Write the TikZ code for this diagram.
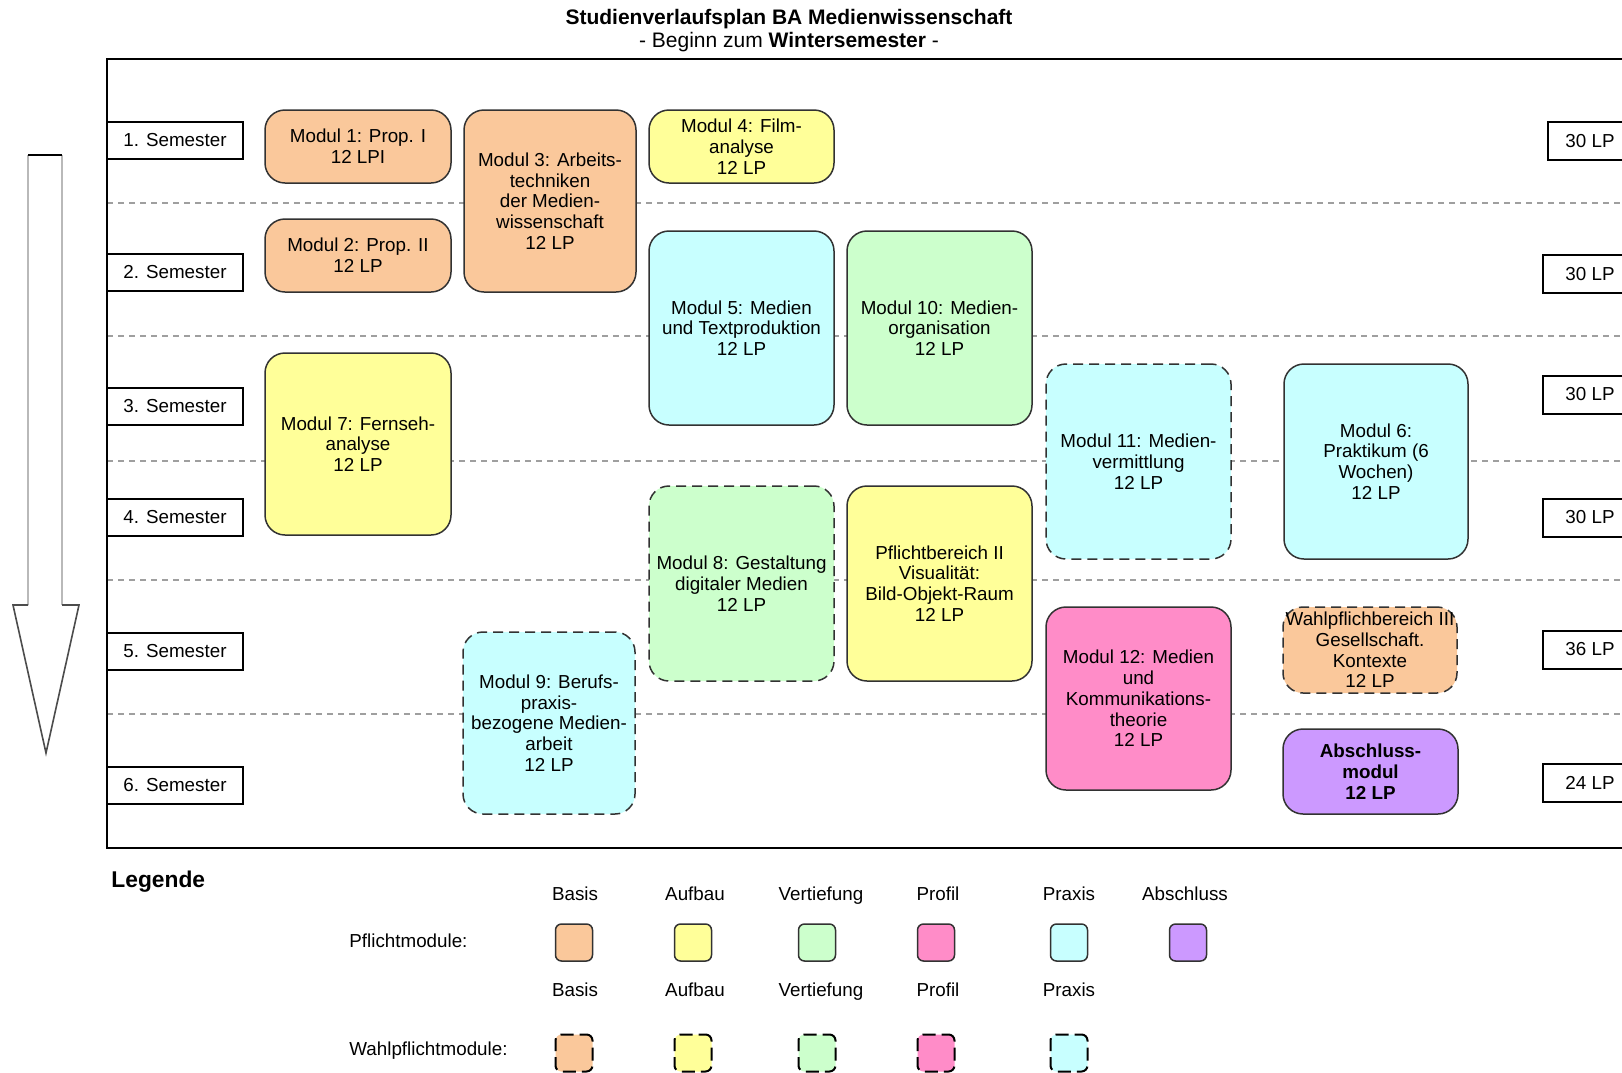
\documentclass[tikz,border=0pt]{standalone}
\usepackage{fontspec}
\setmainfont{Liberation Sans}
\definecolor{cOrange}{RGB}{250,200,155}
\definecolor{cYellow}{RGB}{255,255,153}
\definecolor{cCyan}{RGB}{200,255,255}
\definecolor{cGreen}{RGB}{204,255,204}
\definecolor{cPink}{RGB}{255,140,200}
\definecolor{cPurple}{RGB}{204,153,255}
\definecolor{cBorder}{RGB}{50,50,50}
\newcommand{\modfnt}{\fontsize{9.4pt}{10.35pt}\selectfont}
\tikzset{
  modbox/.style={draw=cBorder, line width=0.75pt, rounded corners=10pt, align=center, font=\modfnt, inner sep=0pt},
  wahlbox/.style={modbox, dash pattern=on 5pt off 3pt},
  sembox/.style={draw=black, line width=1pt, font=\modfnt, minimum width=68pt, minimum height=18.5pt, inner sep=0pt},
  lpbox/.style={draw=black, line width=1pt, font=\modfnt, minimum height=19pt, inner sep=0pt},
  sepline/.style={gray!75, line width=0.6pt, dash pattern=on 3pt off 2.5pt},
  swatch/.style={draw=cBorder, line width=0.75pt, rounded corners=3pt, minimum width=18.5pt, minimum height=18.5pt, inner sep=0pt},
  wswatch/.style={swatch, draw=black, line width=1pt, dash pattern=on 6.5pt off 3pt, dash phase=3pt},
  legtext/.style={font=\modfnt, inner sep=0pt},
  leghead/.style={font=\modfnt, inner sep=0pt, anchor=base}
}
\begin{document}
\begin{tikzpicture}[x=0.5pt, y=-0.5pt]
\useasboundingbox (0,0) rectangle (1622,1072);
\clip (0,0) rectangle (1622,1072);
\fill[white] (0,0) rectangle (1622,1072);

% title
\node[font=\bfseries\fontsize{10.5pt}{12pt}\selectfont, inner sep=0pt] (title) at (789,19) {Studienverlaufsplan BA Medienwissenschaft};
\node[font=\fontsize{10.5pt}{12pt}\selectfont, inner sep=0pt] (subtitle) at (789,42) {- Beginn zum \textbf{Wintersemester} -};

% arrow
\draw[gray!55, line width=1.4pt] (28,605) -- (28,155);
\draw[gray!55, line width=1.4pt] (62,155) -- (62,605);
\draw[black, line width=0.9pt] (28,155) -- (62,155);
\draw[black!70, line width=0.8pt] (28,605) -- (13,605) -- (46,753) -- (79,605) -- (62,605);

% separators
\foreach \yy in {203,336,461,580,714} {
  \draw[sepline] (107,\yy) -- (1700,\yy);
}

% frame
\draw[black, line width=1pt] (1700,59) -- (107,59) -- (107,848) -- (1700,848);

% semester boxes
\node[sembox, fill=white] (s1) at (175,140) {1. Semester};
\node[sembox, fill=white] (s2) at (175,272.5) {2. Semester};
\node[sembox, fill=white] (s3) at (175,406.5) {3. Semester};
\node[sembox, fill=white] (s4) at (175,517.5) {4. Semester};
\node[sembox, fill=white] (s5) at (175,651.5) {5. Semester};
\node[sembox, fill=white] (s6) at (175,785.5) {6. Semester};

% LP boxes
\node[lpbox, fill=white, minimum width=42pt] (lp1) at (1590,141) {30 LP};
\node[lpbox, fill=white, minimum width=47pt] (lp2) at (1590,274) {30 LP};
\node[lpbox, fill=white, minimum width=47pt] (lp3) at (1590,394.5) {30 LP};
\node[lpbox, fill=white, minimum width=47pt] (lp4) at (1590,517.5) {30 LP};
\node[lpbox, fill=white, minimum width=47pt] (lp5) at (1590,649.5) {36 LP};
\node[lpbox, fill=white, minimum width=47pt] (lp6) at (1590,783) {24 LP};

% modules
\node[modbox, fill=cOrange, minimum width=93pt, minimum height=36.5pt] (m1) at (358,146.5) {Modul 1: Prop. I\\12 LPI};
\node[modbox, fill=cOrange, minimum width=93pt, minimum height=36.5pt] (m2) at (358,255.5) {Modul 2: Prop. II\\12 LP};
\node[modbox, fill=cOrange, minimum width=86pt, minimum height=91pt] (m3) at (550,201) {Modul 3: Arbeits-\\techniken\\der Medien-\\wissenschaft\\12 LP};
\node[modbox, fill=cYellow, minimum width=92.5pt, minimum height=36.5pt] (m4) at (741.5,146.5) {Modul 4: Film-\\analyse\\12 LP};
\node[modbox, fill=cCyan, minimum width=92.5pt, minimum height=97pt] (m5) at (741.5,328) {Modul 5: Medien\\und Textproduktion\\12 LP};
\node[modbox, fill=cGreen, minimum width=92.5pt, minimum height=97pt] (m10) at (939.5,328) {Modul 10: Medien-\\organisation\\12 LP};
\node[modbox, fill=cYellow, minimum width=93pt, minimum height=91pt] (m7) at (358,444) {Modul 7: Fernseh-\\analyse\\12 LP};
\node[wahlbox, fill=cCyan, minimum width=92.5pt, minimum height=97.5pt] (m11) at (1138.5,461.5) {Modul 11: Medien-\\vermittlung\\12 LP};
\node[modbox, fill=cCyan, minimum width=92pt, minimum height=97.5pt] (m6) at (1376,461.5) {Modul 6:\\Praktikum (6\\Wochen)\\12 LP};
\node[wahlbox, fill=cGreen, minimum width=92.5pt, minimum height=97.5pt] (m8) at (741.5,583.5) {Modul 8: Gestaltung\\digitaler Medien\\12 LP};
\node[modbox, fill=cYellow, minimum width=92.5pt, minimum height=97.5pt] (p2) at (939.5,583.5) {Pflichtbereich II\\Visualität:\\Bild-Objekt-Raum\\12 LP};
\node[wahlbox, fill=cCyan, minimum width=86pt, minimum height=91pt] (m9) at (549,723) {Modul 9: Berufs-\\praxis-\\bezogene Medien-\\arbeit\\12 LP};
\node[modbox, fill=cPink, minimum width=92.5pt, minimum height=91.5pt] (m12) at (1138.5,698.5) {Modul 12: Medien\\und\\Kommunikations-\\theorie\\12 LP};
\node[wahlbox, fill=cOrange, minimum width=87pt, minimum height=43pt] (w3) at (1370,650) {Wahlpflichbereich III\\Gesellschaft.\\Kontexte\\12 LP};
\node[modbox, fill=cPurple, minimum width=87.5pt, minimum height=42.5pt, font=\modfnt\bfseries] (abs) at (1370.5,771.5) {Abschluss-\\modul\\12 LP};

% legend
\node[anchor=west, inner sep=0pt, font=\bfseries\fontsize{11.4pt}{13pt}\selectfont] (leg) at (111,882) {Legende};
\node[legtext, anchor=west] (pflicht) at (349,941) {Pflichtmodule:};
\node[legtext, anchor=west] (wahl) at (349,1051) {Wahlpflichtmodule:};

\node[leghead] (h1) at (575,900) {Basis};
\node[leghead] (h2) at (695,900) {Aufbau};
\node[leghead] (h3) at (821,900) {Vertiefung};
\node[leghead] (h4) at (938,900) {Profil};
\node[leghead] (h5) at (1069,900) {Praxis};
\node[leghead] (h6) at (1185,900) {Abschluss};

\node[swatch, fill=cOrange] (p1s) at (574,942.5) {};
\node[swatch, fill=cYellow] (p2s) at (693,942.5) {};
\node[swatch, fill=cGreen] (p3s) at (817,942.5) {};
\node[swatch, fill=cPink] (p4s) at (936,942.5) {};
\node[swatch, fill=cCyan] (p5s) at (1069,942.5) {};
\node[swatch, fill=cPurple] (p6s) at (1188,942.5) {};

\node[leghead] (g1) at (575,996) {Basis};
\node[leghead] (g2) at (695,996) {Aufbau};
\node[leghead] (g3) at (821,996) {Vertiefung};
\node[leghead] (g4) at (938,996) {Profil};
\node[leghead] (g5) at (1069,996) {Praxis};

\node[wswatch, fill=cOrange] (w1s) at (574,1053) {};
\node[wswatch, fill=cYellow] (w2s) at (693,1053) {};
\node[wswatch, fill=cGreen] (w3s) at (817,1053) {};
\node[wswatch, fill=cPink] (w4s) at (936,1053) {};
\node[wswatch, fill=cCyan] (w5s) at (1069,1053) {};
\end{tikzpicture}
\end{document}
